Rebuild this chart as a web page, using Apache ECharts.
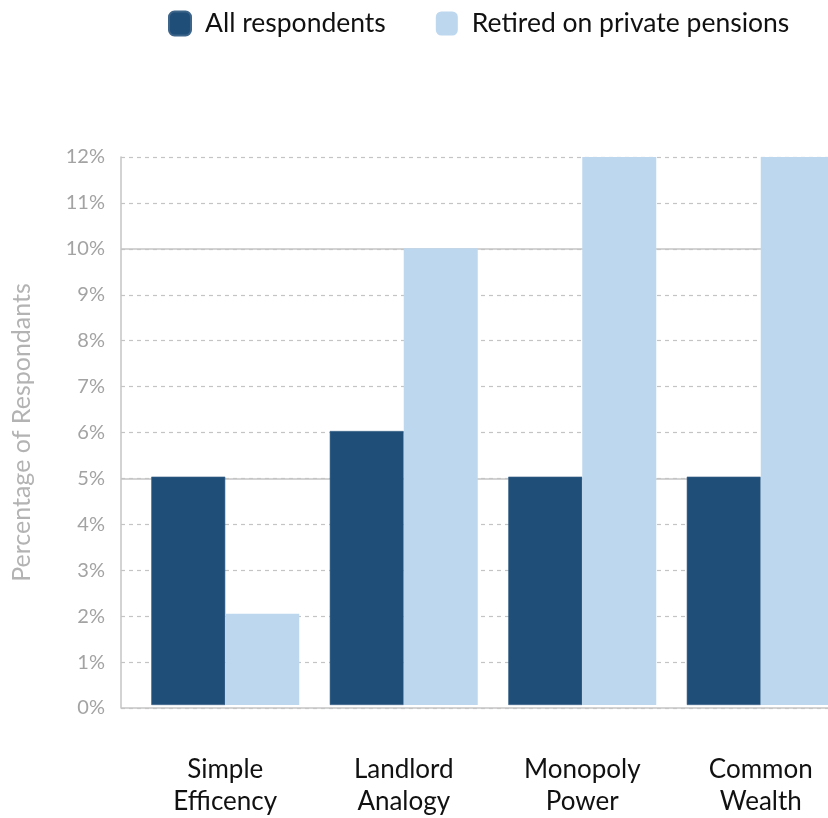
<!DOCTYPE html>
<html>
<head>
<meta charset="utf-8">
<script src="https://cdn.jsdelivr.net/npm/echarts@6/dist/echarts.min.js"></script>
<style>
  html, body { margin: 0; padding: 0; background: #ffffff; overflow: hidden; }
  /* the plot runs a little past the right edge of the page */
  #chart { width: 850px; height: 818px; }
</style>
</head>
<body>
<div id="chart"></div>
<script>
// Survey answers by argument type
const categories = ['Simple\nEfficency', 'Landlord\nAnalogy', 'Monopoly\nPower', 'Common\nWealth'];
const seriesNames = ['All respondents', 'Retired on private pensions'];
const allRespondents = [5, 6, 5, 5];
const retiredPrivate = [2, 10, 12, 12];
const solidGuides = [0, 5, 10];

const FONT = 'Lato, "Open Sans", sans-serif';
const GRID_COLOR = '#c4c4c4';

const chart = echarts.init(document.getElementById('chart'), null, { renderer: 'canvas' });

chart.setOption({
  backgroundColor: '#ffffff',
  animation: false,
  textStyle: { fontFamily: FONT },
  legend: {
    data: seriesNames,
    top: 5,
    left: 163,
    icon: 'roundRect',
    itemWidth: 22,
    itemHeight: 24,
    itemGap: 50,
    textStyle: { fontFamily: FONT, fontSize: 26.5, color: '#111111', padding: [0, 0, 0, 9] }
  },
  grid: [
    // frame with the value axis and its guide lines
    { left: 121, right: 0, top: 157, bottom: 110 },
    // bar area, inset so the categories sit where they belong
    { left: 136, right: 0, top: 157, bottom: 110 }
  ],
  xAxis: [
    { gridIndex: 0, type: 'value', min: 0, max: 1, show: false },
    {
      gridIndex: 1,
      type: 'category',
      data: categories,
      axisLine: { show: false },
      axisTick: { show: false },
      axisLabel: {
        margin: 49,
        fontFamily: FONT,
        fontSize: 26,
        lineHeight: 32,
        color: '#111111'
      }
    }
  ],
  yAxis: [
    {
      gridIndex: 0,
      type: 'value',
      min: 0,
      max: 12,
      interval: 1,
      name: 'Percentage of Respondants',
      nameLocation: 'middle',
      nameGap: 87,
      nameTextStyle: { fontFamily: FONT, fontSize: 25, color: '#b3b3b3' },
      axisLine: { show: true, lineStyle: { color: GRID_COLOR, width: 1.5 } },
      axisTick: { show: false },
      axisLabel: {
        formatter: '{value}%',
        margin: 16,
        fontFamily: FONT,
        fontSize: 20,
        color: '#a3a3a3'
      },
      splitLine: { show: true, lineStyle: { color: GRID_COLOR, width: 1.2, type: [4, 4] } }
    },
    { gridIndex: 1, type: 'value', min: 0, max: 12, show: false }
  ],
  series: [
    {
      // solid guides at 0%, 5% and 10%
      type: 'line',
      xAxisIndex: 0,
      yAxisIndex: 0,
      data: [],
      z: 1,
      silent: true,
      markLine: {
        silent: true,
        z: 1,
        symbol: 'none',
        label: { show: false },
        lineStyle: { color: GRID_COLOR, width: 1.6, type: 'solid' },
        data: solidGuides.map(v => ({ yAxis: v }))
      }
    },
    {
      name: seriesNames[0],
      type: 'bar',
      xAxisIndex: 1,
      yAxisIndex: 1,
      data: allRespondents,
      barWidth: 74,
      barGap: '0%',
      z: 10,
      itemStyle: { color: '#1f4e79', borderColor: '#3d6489', borderWidth: 0.6 }
    },
    {
      name: seriesNames[1],
      type: 'bar',
      xAxisIndex: 1,
      yAxisIndex: 1,
      data: retiredPrivate,
      barWidth: 74,
      barGap: '0%',
      z: 10,
      itemStyle: { color: '#bdd7ee' }
    }
  ]
});
</script>
</body>
</html>
